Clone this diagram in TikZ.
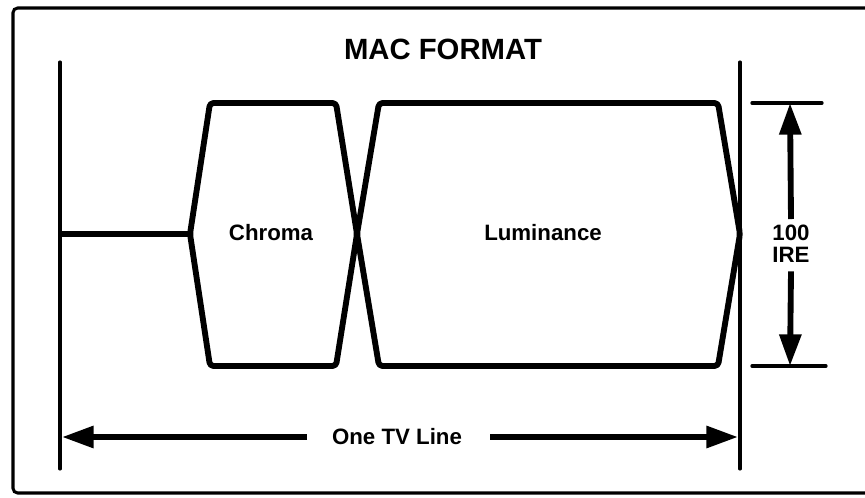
\documentclass[tikz,border=0pt]{standalone}
\usepackage{fontspec}
\setmainfont{Liberation Sans}
\usepackage{tikz}
\usetikzlibrary{arrows.meta, positioning, calc}

\begin{document}
\begin{tikzpicture}[x=0.03cm, y=-0.03cm,
    frameline/.style={line width=2.6pt, rounded corners=4pt},
    edgeline/.style={line width=2.6pt, line cap=round},
    pulse/.style={line width=5pt, line join=round, rounded corners=3pt},
    dimarrow/.style={line width=5pt, -{Triangle[length=27pt, width=18pt]}},
    tick/.style={line width=2.8pt, line cap=round},
    every node/.style={font=\bfseries\fontsize{19}{19}\selectfont, inner sep=0pt}]
        \useasboundingbox (0,0) rectangle (865,497);
        \draw[frameline] (13,8) rectangle (880,493);
        \node (title) at (443,49) {\fontsize{25}{25}\selectfont MAC FORMAT};
        % line limits
        \coordinate (ltop) at (60,62); \coordinate (lbot) at (60,469);
        \coordinate (rtop) at (740,62); \coordinate (rbot) at (740,469);
        \draw[edgeline] (ltop) -- (lbot);
        \draw[edgeline] (rtop) -- (rbot);
        % Chroma and Luminance
        \coordinate (start) at (60,234);
        \coordinate (cleft) at (190,234); \coordinate (cmid) at (357,234); \coordinate (lright) at (740,234);
        \draw[pulse] (start) -- (cleft);
        \draw[pulse] (cleft) -- (210,103) -- (336,103) -- (cmid) -- (336,366) -- (210,366) -- cycle;
        \draw[pulse] (cmid) -- (379,103) -- (718,103) -- (lright) -- (718,366) -- (379,366) -- cycle;
        \node (chroma) at (271,233) {Chroma};
        \node (luma) at (543,233) {Luminance};
        % 100 IRE
        \coordinate (itop) at (790,103); \coordinate (ibot) at (790,366);
        \draw[tick] (752,103) -- (822,103);
        \draw[tick] (752,366) -- (826,366);
        \node[align=center] (ire) at (791,244) {100\\IRE};
        \draw[dimarrow] ([yshift=5pt]ire.north) -- (itop);
        \draw[dimarrow] ([yshift=-7pt]ire.south) -- (ibot);
        % One TV Line
        \coordinate (tvl) at (62,437); \coordinate (tvr) at (738,437);
        \node (tvline) at (397,437) {One TV Line};
        \draw[dimarrow] ([xshift=-21pt]tvline.west) -- (tvl);
        \draw[dimarrow] ([xshift=24pt]tvline.east) -- (tvr);
    \end{tikzpicture}
\end{document}
